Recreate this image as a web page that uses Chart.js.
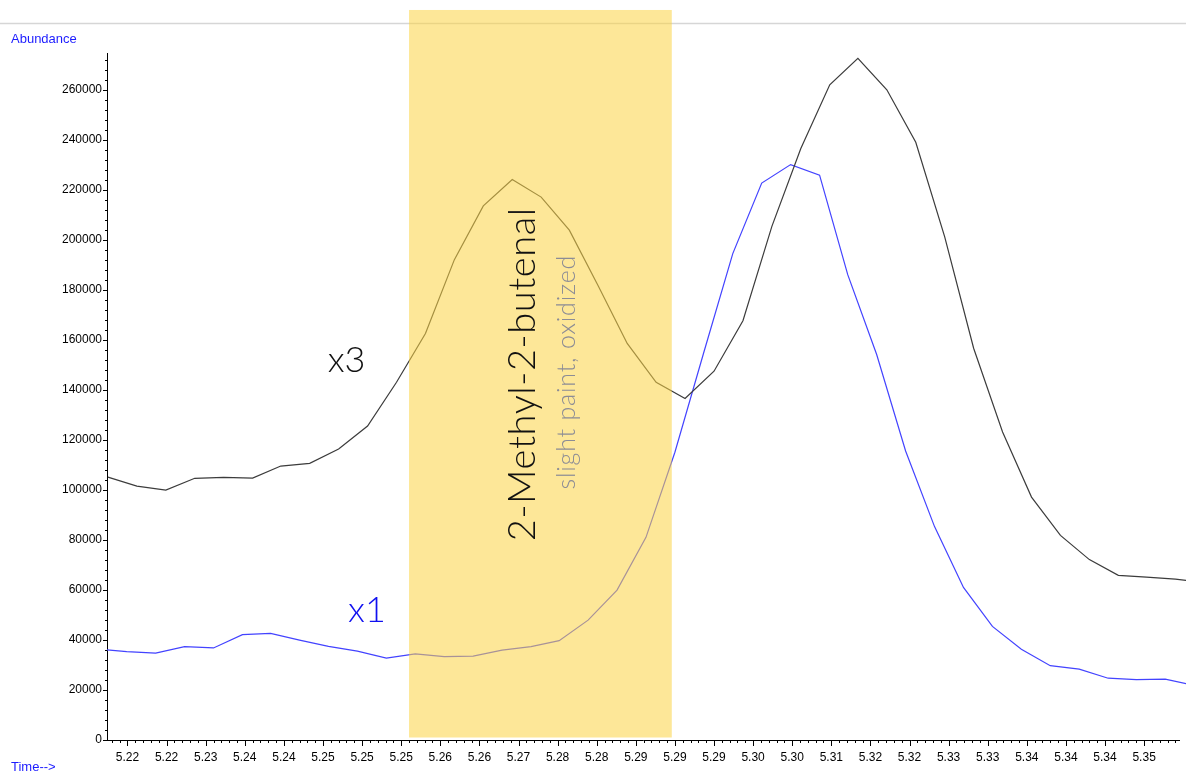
<!doctype html>
<html lang="en">
<head>
<meta charset="utf-8">
<title>Ion chromatogram 5.22 - 5.35 min</title>
<script src="https://cdn.jsdelivr.net/npm/chart.js@4.4.1/dist/chart.umd.min.js"></script>
<style>
  html, body { margin: 0; padding: 0; background: #fff; }
  #wrap { position: relative; width: 1186px; height: 772px; }
</style>
</head>
<body>
<div id="wrap"><canvas id="tic" width="1186" height="772"></canvas></div>

<script>
// scan times (min) and abundances, trace shown x3
const timesX3 = [5.2175, 5.2212, 5.2249, 5.2286, 5.2323, 5.2360, 5.2396, 5.2433, 5.2470, 5.2507,
                 5.2544, 5.2581, 5.2618, 5.2655, 5.2692, 5.2729, 5.2765, 5.2802, 5.2839, 5.2876,
                 5.2913, 5.2950, 5.2987, 5.3024, 5.3061, 5.3098, 5.3134, 5.3171, 5.3208, 5.3245,
                 5.3282, 5.3319, 5.3356, 5.3393, 5.3430, 5.3467, 5.3503, 5.3540, 5.3577];
const abundX3 = [105100, 101500, 99900, 104600, 105000, 104700, 109500, 110600, 116300, 125500,
                 143000, 162500, 192000, 213500, 224000, 217000, 203800, 181500, 158500, 143000,
                 136500, 147400, 167600, 205300, 236400, 261900, 272500, 259900, 238900, 201100,
                 156600, 123100, 97100, 81800, 72100, 65800, 65100, 64300, 62900];

// trace shown x1 (scanned slightly earlier in each cycle)
const timesX1 = [5.2162, 5.2199, 5.2236, 5.2273, 5.2310, 5.2347, 5.2383, 5.2420, 5.2457, 5.2494,
                 5.2531, 5.2568, 5.2605, 5.2642, 5.2679, 5.2716, 5.2752, 5.2789, 5.2826, 5.2863,
                 5.2900, 5.2937, 5.2974, 5.3011, 5.3048, 5.3085, 5.3121, 5.3158, 5.3195, 5.3232,
                 5.3269, 5.3306, 5.3343, 5.3380, 5.3417, 5.3454, 5.3490, 5.3527, 5.3564];
const abundX1 = [36400, 35300, 34700, 37300, 36800, 42100, 42600, 39900, 37400, 35500,
                 32700, 34400, 33300, 33500, 35900, 37300, 39700, 47900, 59900, 81000,
                 115000, 155000, 194400, 222600, 230000, 225800, 186000, 154100, 115500, 85300,
                 61000, 45400, 36300, 29700, 28300, 24700, 24100, 24300, 21800];

const yTickValues = [0, 20000, 40000, 60000, 80000, 100000, 120000, 140000,
                     160000, 180000, 200000, 220000, 240000, 260000];
const xTickValues = [5.220, 5.225, 5.230, 5.235, 5.240, 5.245, 5.250, 5.255, 5.260,
                     5.265, 5.270, 5.275, 5.280, 5.285, 5.290, 5.295, 5.300, 5.305,
                     5.310, 5.315, 5.320, 5.325, 5.330, 5.335, 5.340, 5.345, 5.350];
const xTickLabels = ['5.22', '5.22', '5.23', '5.24', '5.24', '5.25', '5.25', '5.25', '5.26',
                     '5.26', '5.27', '5.28', '5.28', '5.29', '5.29', '5.29', '5.30', '5.30',
                     '5.31', '5.32', '5.32', '5.33', '5.33', '5.34', '5.34', '5.34', '5.35'];

// integration window of the marked peak
const peakWindow = [5.2560, 5.2896];
const peakName = '2-Methyl-2-butenal';
const peakNote = 'slight paint, oxidized';

const X_MIN = 5.21738, X_MAX = 5.35446;
const Y_MAX = 274600;

Chart.defaults.font.family = '"Liberation Sans", Arial, sans-serif';
Chart.defaults.font.size = 12;
Chart.defaults.color = '#000';

function toPoints(xs, ys) {
  return xs.map((t, i) => ({ x: t, y: ys[i] }));
}

// frame: grey rule at the top plus the axis captions
const frame = {
  id: 'frame',
  beforeDraw(chart) {
    const ctx = chart.ctx;
    ctx.save();
    ctx.fillStyle = '#fff';
    ctx.fillRect(0, 0, chart.width, chart.height);
    ctx.strokeStyle = '#d6d6d6';
    ctx.lineWidth = 1.5;
    ctx.beginPath();
    ctx.moveTo(0, 23.5);
    ctx.lineTo(chart.width, 23.5);
    ctx.stroke();
    ctx.fillStyle = '#1c1cff';
    ctx.font = '13px "Liberation Sans", Arial, sans-serif';
    ctx.textBaseline = 'middle';
    ctx.fillText('Abundance', 11, 39);
    ctx.fillText('Time-->', 11, 767);
    ctx.restore();
  }
};

// major and minor tick marks on both axes
const tickMarks = {
  id: 'tickMarks',
  afterDraw(chart) {
    const { ctx, chartArea: a, scales: { x, y } } = chart;
    ctx.save();
    ctx.strokeStyle = '#000';
    ctx.lineWidth = 1;
    ctx.beginPath();
    for (let k = Math.ceil(x.min / 0.001); k * 0.001 <= x.max; k++) {
      const px = Math.round(x.getPixelForValue(k * 0.001)) + 0.5;
      ctx.moveTo(px, a.bottom);
      ctx.lineTo(px, a.bottom + (k % 5 === 0 ? 6 : 3));
    }
    for (let v = 0; v <= y.max; v += 4000) {
      const py = Math.round(y.getPixelForValue(v)) + 0.5;
      ctx.moveTo(a.left, py);
      ctx.lineTo(a.left - (v % 20000 === 0 ? 4 : 2), py);
    }
    ctx.stroke();
    ctx.restore();
  }
};

// shaded peak window and the annotations on top of it
const peakMarks = {
  id: 'peakMarks',
  afterDatasetsDraw(chart) {
    const { ctx, scales: { x, y } } = chart;
    const left = x.getPixelForValue(peakWindow[0]);
    const right = x.getPixelForValue(peakWindow[1]);
    const top = y.getPixelForValue(291800);
    const bottom = y.getPixelForValue(1000);
    ctx.save();
    ctx.fillStyle = 'rgba(252, 211, 68, 0.55)';
    ctx.fillRect(left, top, right - left, bottom - top);

    ctx.font = '300 36px Lato, "Open Sans", sans-serif';
    ctx.textBaseline = 'alphabetic';
    ctx.fillStyle = '#111';
    ctx.fillText('x3', x.getPixelForValue(5.2456), y.getPixelForValue(147000));
    ctx.fillStyle = '#1010f0';
    ctx.fillText('x1', x.getPixelForValue(5.2482), y.getPixelForValue(47000));

    // vertical captions, read bottom to top
    ctx.textAlign = 'center';
    ctx.save();
    ctx.translate(x.getPixelForValue(5.2721), y.getPixelForValue(146200));
    ctx.rotate(-Math.PI / 2);
    ctx.fillStyle = '#111';
    ctx.font = '300 38px Lato, "Open Sans", sans-serif';
    ctx.letterSpacing = '0.6px';
    ctx.fillText(peakName, 0, 0);
    ctx.restore();
    ctx.save();
    ctx.translate(x.getPixelForValue(5.2772), y.getPixelForValue(147000));
    ctx.rotate(-Math.PI / 2);
    ctx.fillStyle = '#8c8c95';
    ctx.font = '300 25px Lato, "Open Sans", sans-serif';
    ctx.letterSpacing = '0.8px';
    ctx.fillText(peakNote, 0, 0);
    ctx.restore();
    ctx.restore();
  }
};

new Chart(document.getElementById('tic'), {
  type: 'line',
  data: {
    datasets: [
      {
        label: 'x3',
        data: toPoints(timesX3, abundX3),
        borderColor: '#3c3c3c',
        borderWidth: 1.2,
        pointRadius: 0,
        tension: 0,
        clip: { left: 0, top: 10, right: 10, bottom: 0 }
      },
      {
        label: 'x1',
        data: toPoints(timesX1, abundX1),
        borderColor: '#4343ff',
        borderWidth: 1.2,
        pointRadius: 0,
        tension: 0,
        clip: { left: 0, top: 10, right: 10, bottom: 0 }
      }
    ]
  },
  options: {
    responsive: false,
    animation: false,
    events: [],
    layout: { padding: { top: 53, right: 7, left: 0, bottom: 0 } },
    plugins: { legend: { display: false }, tooltip: { enabled: false } },
    scales: {
      x: {
        type: 'linear',
        min: X_MIN,
        max: X_MAX,
        grid: { display: false, tickLength: 0 },
        border: { display: true, color: '#000', width: 1 },
        afterBuildTicks: (s) => { s.ticks = xTickValues.map(v => ({ value: v })); },
        afterFit: (s) => { s.height = 32; },
        ticks: {
          autoSkip: false,
          maxRotation: 0,
          padding: 10,
          callback: (v, i) => xTickLabels[i]
        }
      },
      y: {
        type: 'linear',
        min: 0,
        max: Y_MAX,
        grid: { display: false, tickLength: 0 },
        border: { display: true, color: '#000', width: 1 },
        afterBuildTicks: (s) => { s.ticks = yTickValues.map(v => ({ value: v })); },
        afterFit: (s) => { s.width = 107; },
        ticks: {
          padding: 5,
          callback: (v) => String(v)
        }
      }
    }
  },
  plugins: [frame, tickMarks, peakMarks]
});
</script>
</body>
</html>
